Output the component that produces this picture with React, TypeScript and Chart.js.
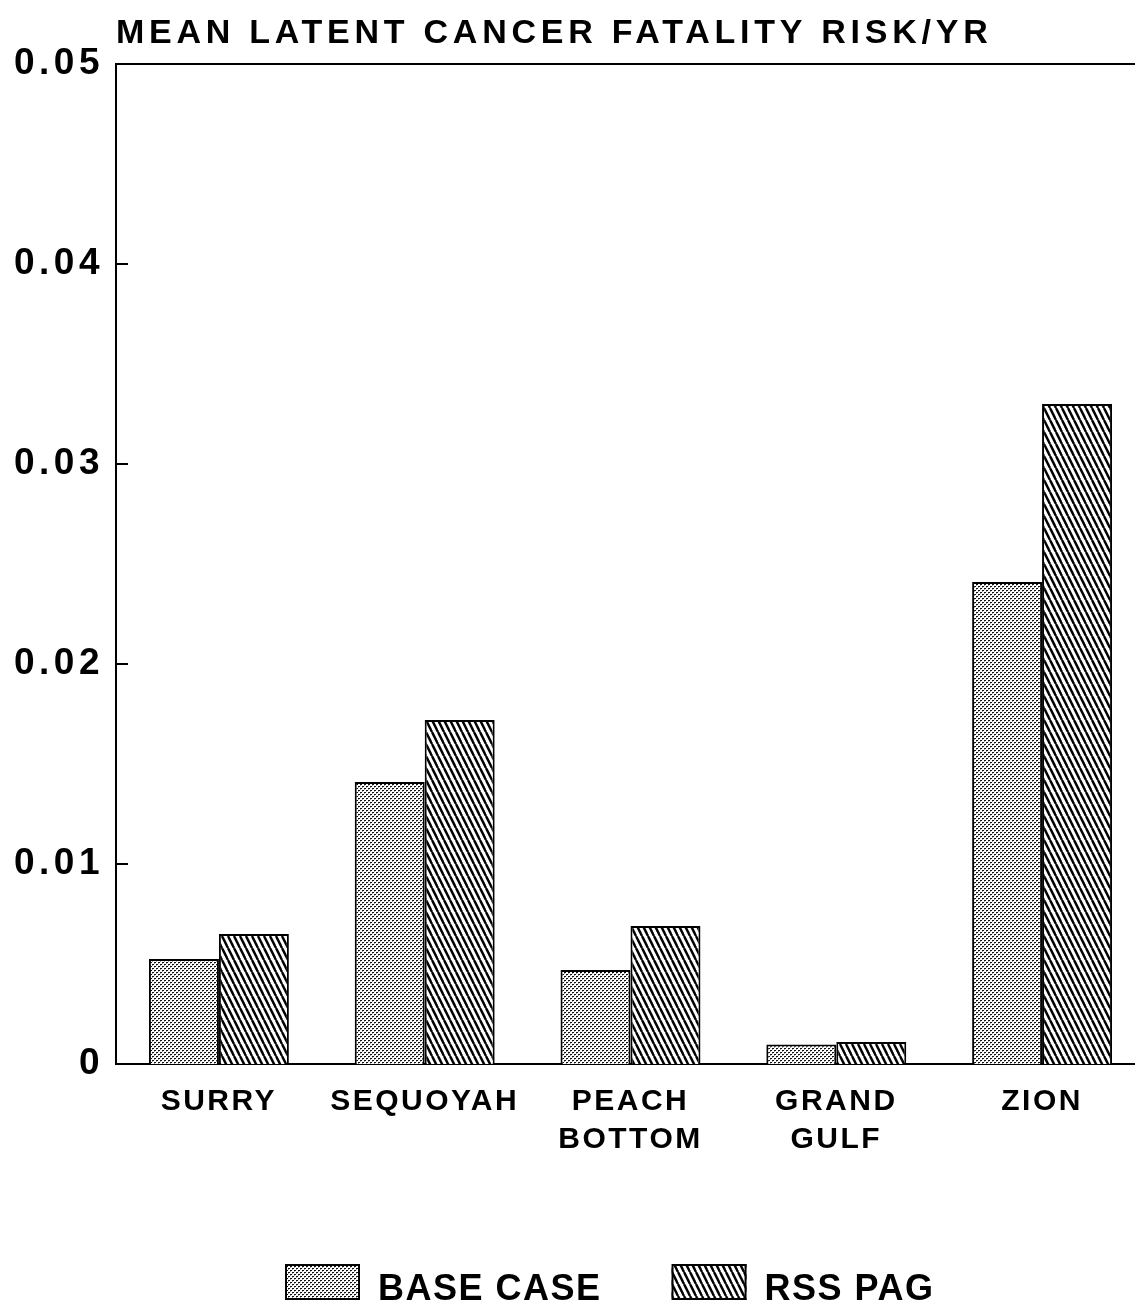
import React, { useEffect, useRef } from 'react';
import { Chart, registerables } from 'chart.js';

Chart.register(...registerables);

const categories: string[][] = [['SURRY'], ['SEQUOYAH'], ['PEACH', 'BOTTOM'], ['GRAND', 'GULF'], ['ZION']];
const baseCase = [0.00525, 0.0141, 0.0047, 0.00098, 0.0241];
const rssPag = [0.0065, 0.0172, 0.0069, 0.0011, 0.033];
const seriesLabels = ['BASE CASE', 'RSS PAG'];
const titleText = 'MEAN LATENT CANCER FATALITY RISK/YR';
const yMin = 0;
const yMax = 0.05;
const yStep = 0.01;

const FONT = '"Liberation Sans", Arial, Helvetica, sans-serif';

function makeStipple(): CanvasPattern {
  const c = document.createElement('canvas');
  c.width = 4;
  c.height = 4;
  const g = c.getContext('2d')!;
  g.fillStyle = '#ffffff';
  g.fillRect(0, 0, 4, 4);
  g.fillStyle = '#111111';
  g.fillRect(0, 0, 2, 1);
  g.fillRect(2, 2, 2, 1);
  g.fillStyle = '#999999';
  g.fillRect(0, 1, 1, 1);
  g.fillRect(2, 3, 1, 1);
  return g.createPattern(c, 'repeat')!;
}

function makeHatch(): CanvasPattern {
  const w = 6;
  const h = 12;
  const c = document.createElement('canvas');
  c.width = w;
  c.height = h;
  const g = c.getContext('2d')!;
  g.fillStyle = '#ffffff';
  g.fillRect(0, 0, w, h);
  g.strokeStyle = '#000000';
  g.lineWidth = 2.4;
  for (const off of [-w, 0, w]) {
    g.beginPath();
    g.moveTo(off, 0);
    g.lineTo(off + w, h);
    g.stroke();
  }
  return g.createPattern(c, 'repeat')!;
}

function patchSpacing(scale: any, spacing: string) {
  if (scale.__patched) return;
  const orig = scale.draw;
  scale.draw = function (area: any) {
    const ctx = this.ctx;
    ctx.save();
    ctx.letterSpacing = spacing;
    orig.call(this, area);
    ctx.restore();
  };
  scale.__patched = true;
}

const decorPlugin = {
  id: 'decor',
  afterDraw(chart: any) {
    const { ctx, chartArea: ca, scales } = chart;
    ctx.save();
    ctx.strokeStyle = '#000';
    ctx.lineWidth = 2;
    // top frame line
    ctx.beginPath();
    ctx.moveTo(ca.left - 1, ca.top);
    ctx.lineTo(chart.width, ca.top);
    ctx.stroke();
    // inward tick marks on y axis
    const ys = scales.y;
    ctx.beginPath();
    ys.ticks.forEach((t: any) => {
      const py = ys.getPixelForValue(t.value);
      ctx.moveTo(ca.left, py);
      ctx.lineTo(ca.left + 12, py);
    });
    ctx.stroke();
    // title
    ctx.fillStyle = '#000';
    ctx.textAlign = 'left';
    ctx.textBaseline = 'alphabetic';
    ctx.font = `bold 34px ${FONT}`;
    (ctx as any).letterSpacing = '4.75px';
    ctx.fillText(titleText, ca.left, 43);
    // legend
    ctx.font = `bold 36px ${FONT}`;
    (ctx as any).letterSpacing = '1.5px';
    let x = 285;
    const by = 1264;
    chart.data.datasets.forEach((ds: any) => {
      ctx.fillStyle = ds.backgroundColor;
      ctx.fillRect(x, by, 75, 36);
      ctx.strokeRect(x + 1, by + 1, 73, 34);
      ctx.fillStyle = '#000';
      ctx.fillText(ds.label, x + 93, by + 36);
      x += 93 + ctx.measureText(ds.label).width + 70;
    });
    ctx.restore();
  },
};

export default function App() {
  const ref = useRef<HTMLCanvasElement | null>(null);

  useEffect(() => {
    if (!ref.current) return;
    const chart = new Chart(ref.current, {
      type: 'bar',
      data: {
        labels: categories,
        datasets: [
          {
            label: seriesLabels[0],
            data: baseCase,
            backgroundColor: makeStipple(),
            borderColor: '#000',
            borderWidth: 2,
            categoryPercentage: 0.68,
            barPercentage: 1,
          },
          {
            label: seriesLabels[1],
            data: rssPag,
            backgroundColor: makeHatch(),
            borderColor: '#000',
            borderWidth: 2,
            categoryPercentage: 0.68,
            barPercentage: 1,
          },
        ],
      },
      options: {
        responsive: false,
        animation: false,
        devicePixelRatio: 1,
        layout: { padding: { top: 64, right: 15, left: 0, bottom: 0 } },
        plugins: {
          legend: { display: false },
          title: { display: false },
          tooltip: { enabled: false },
        },
        scales: {
          x: {
            grid: { display: false, drawTicks: false },
            border: { display: true, color: '#000', width: 2 },
            ticks: {
              color: '#000',
              font: { family: FONT, size: 30, weight: 'bold', lineHeight: 1.26 },
              padding: 19,
              maxRotation: 0,
              autoSkip: false,
            },
            afterFit: (s: any) => {
              s.height = 245;
              patchSpacing(s, '2.5px');
            },
          },
          y: {
            min: yMin,
            max: yMax,
            grid: { display: false, drawTicks: false },
            border: { display: true, color: '#000', width: 2 },
            ticks: {
              stepSize: yStep,
              color: '#000',
              font: { family: FONT, size: 37, weight: 'bold' },
              padding: 12,
              callback: (v: any) => (Number(v) === 0 ? '0' : Number(v).toFixed(2)),
            },
            afterFit: (s: any) => {
              s.width = 116;
              patchSpacing(s, '4.5px');
            },
          },
        },
      },
      plugins: [decorPlugin],
    } as any);
    return () => chart.destroy();
  }, []);

  return (
    <div
      style={{
        position: 'absolute',
        left: 0,
        top: 0,
        width: 1135,
        height: 1309,
        overflow: 'hidden',
        background: '#fff',
      }}
    >
      <canvas ref={ref} width={1160} height={1309} style={{ display: 'block' }} />
    </div>
  );
}
